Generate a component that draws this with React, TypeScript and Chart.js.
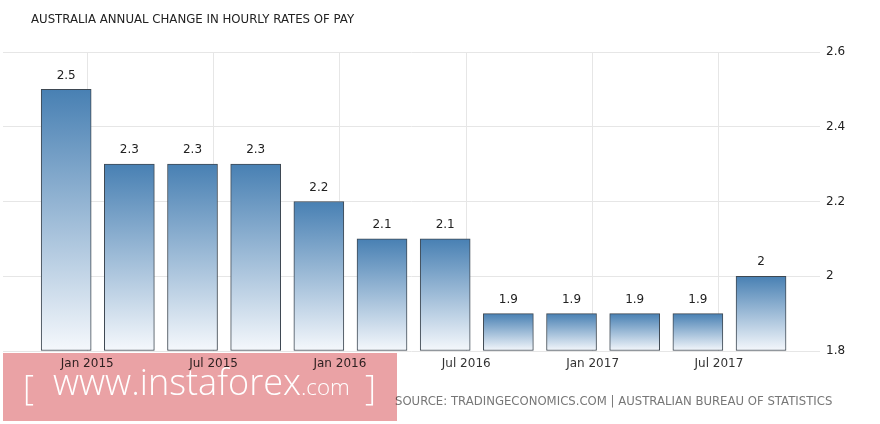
import React, { useEffect, useRef } from "react";
import { Chart, registerables } from "chart.js";

Chart.register(...registerables);

const TITLE = "AUSTRALIA ANNUAL CHANGE IN HOURLY RATES OF PAY";
const SOURCE = "SOURCE: TRADINGECONOMICS.COM | AUSTRALIAN BUREAU OF STATISTICS";

const periods = [
  "2014-12", "2015-03", "2015-06", "2015-09", "2015-12", "2016-03",
  "2016-06", "2016-09", "2016-12", "2017-03", "2017-06", "2017-09",
];
const values = [2.5, 2.3, 2.3, 2.3, 2.2, 2.1, 2.1, 1.9, 1.9, 1.9, 1.9, 2.0];
const tickDates = ["2015-01", "2015-07", "2016-01", "2016-07", "2017-01", "2017-07"];
const tickLabels = ["Jan 2015", "Jul 2015", "Jan 2016", "Jul 2016", "Jan 2017", "Jul 2017"];
const yTicks = [1.8, 2.0, 2.2, 2.4, 2.6];

const monthIndex = (s: string) => {
  const [y, m] = s.split("-").map(Number);
  return (y - 2015) * 12 + (m - 1);
};

const fmt = (v: number) => String(+v.toFixed(1));

const FONT = "'DejaVu Sans', Verdana, sans-serif";

export default function App() {
  const ref = useRef<HTMLCanvasElement>(null);

  useEffect(() => {
    const canvas = ref.current!;
    const tickMonths = tickDates.map(monthIndex);

    const bgPlugin = {
      id: "bg",
      beforeDraw(chart: any) {
        const c = chart.ctx;
        c.save();
        c.fillStyle = "#ffffff";
        c.fillRect(0, 0, chart.width, chart.height);
        c.restore();
      },
    };

    const labelsPlugin = {
      id: "valueLabels",
      afterDatasetsDraw(chart: any) {
        const c = chart.ctx;
        const meta = chart.getDatasetMeta(0);
        c.save();
        c.font = `12px ${FONT}`;
        c.fillStyle = "#222";
        c.textAlign = "center";
        c.textBaseline = "middle";
        meta.data.forEach((el: any, i: number) => {
          c.fillText(fmt(values[i]), el.x, el.y - 14);
        });
        c.restore();
      },
    };

    const decoPlugin = {
      id: "deco",
      afterDraw(chart: any) {
        const c = chart.ctx;
        c.save();
        // title
        c.font = `11.75px ${FONT}`;
        c.fillStyle = "#222";
        c.textAlign = "left";
        c.textBaseline = "middle";
        c.fillText(TITLE, 31, 20);
        // source
        c.font = `11.7px ${FONT}`;
        c.fillStyle = "#777";
        c.fillText(SOURCE, 395, 402);
        // watermark box
        c.globalCompositeOperation = "multiply";
        c.fillStyle = "rgb(234,162,165)";
        c.fillRect(3, 353, 394, 68);
        c.globalCompositeOperation = "source-over";
        // watermark text
        c.fillStyle = "#ffffff";
        c.textBaseline = "alphabetic";
        const fam = "'Open Sans', 'DejaVu Sans', sans-serif";
        c.font = `300 40px ${fam}`;
        const w40 = c.measureText("www.instaforex").width;
        const size = (40 * 248) / w40;
        c.font = `300 ${size}px ${fam}`;
        c.fillText("www.instaforex", 53, 395);
        const small = size * 0.62;
        c.font = `300 ${small}px ${fam}`;
        c.fillText(".com", 301, 395);
        c.font = `200 ${size * 0.95}px ${fam}`;
        c.fillText("[", 23, 400);
        c.fillText("]", 365, 400);
        c.restore();
      },
    };

    const chart = new Chart(canvas, {
      type: "bar",
      data: {
        datasets: [
          {
            data: periods.map((p, i) => ({ x: monthIndex(p), y: values[i] })),
            base: yTicks[0],
            barThickness: 50,
            borderWidth: 1,
            borderColor: "#3e4852",
            borderSkipped: false,
            backgroundColor: (ctx: any) => {
              const chart = ctx.chart;
              const ys = chart.scales?.y;
              if (!ys || !chart.chartArea || ctx.raw == null) return "#4a82b4";
              const top = ys.getPixelForValue(ctx.raw.y);
              const bottom = ys.getPixelForValue(yTicks[0]);
              const g = chart.ctx.createLinearGradient(0, top, 0, bottom);
              g.addColorStop(0, "#4880b3");
              g.addColorStop(1, "#f5f8fc");
              return g;
            },
          },
        ],
      },
      options: {
        animation: false,
        responsive: false,
        layout: { padding: { top: 52, left: 3, right: 0, bottom: 0 } },
        plugins: {
          legend: { display: false },
          tooltip: { enabled: false },
          title: { display: false },
        },
        scales: {
          x: {
            type: "linear",
            offset: false,
            min: -4,
            max: 34.8,
            afterBuildTicks: (scale: any) => {
              scale.ticks = tickMonths.map((v) => ({ value: v }));
            },
            afterFit: (scale: any) => {
              scale.height = 73;
            },
            ticks: {
              autoSkip: false,
              maxRotation: 0,
              padding: 6,
              color: "#333",
              font: { family: FONT, size: 12 },
              callback: (v: any) => {
                const i = tickMonths.indexOf(Number(v));
                return i >= 0 ? tickLabels[i] : "";
              },
            },
            grid: { color: "#e6e6e6", drawTicks: false, offset: false },
            border: { display: false },
          },
          y: {
            position: "right",
            min: yTicks[0],
            max: yTicks[yTicks.length - 1],
            afterBuildTicks: (scale: any) => {
              scale.ticks = yTicks.map((v) => ({ value: v }));
            },
            afterFit: (scale: any) => {
              scale.width = 60;
            },
            ticks: {
              padding: 6,
              color: "#222",
              font: { family: FONT, size: 12 },
              callback: (v: any) => fmt(Number(v)),
            },
            grid: { color: "#e6e6e6", drawTicks: false },
            border: { display: false },
          },
        },
      },
      plugins: [bgPlugin, labelsPlugin, decoPlugin],
    } as any);

    return () => chart.destroy();
  }, []);

  return (
    <div style={{ position: "fixed", left: 0, top: 0, width: 880, height: 424 }}>
      <canvas ref={ref} width={880} height={424} />
    </div>
  );
}
